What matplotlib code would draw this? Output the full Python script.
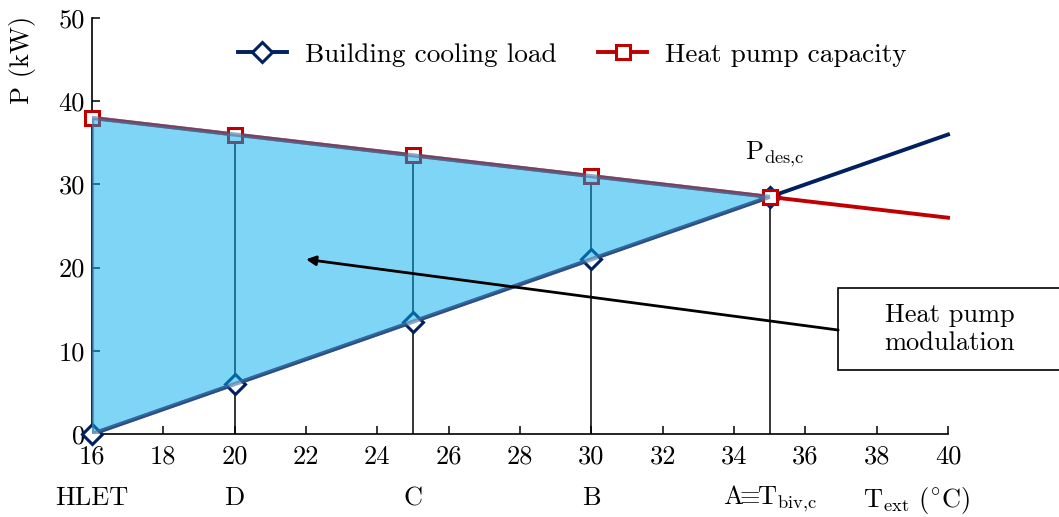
import numpy as np
import matplotlib
matplotlib.use("Agg")
import matplotlib.pyplot as plt
from matplotlib.patches import Polygon, Rectangle

plt.rcParams['font.family'] = 'serif'
plt.rcParams['font.serif'] = ['cmr10']
plt.rcParams['mathtext.fontset'] = 'cm'
plt.rcParams['axes.unicode_minus'] = False

# --- data ---
t_ext = [16, 20, 25, 30, 35, 40]
cooling_load = [0, 6, 13.5, 21, 28.5, 36]
hp_capacity = [38, 36, 33.5, 31, 28.5, 26]
point_labels = ['HLET', 'D', 'C', 'B', r'A$\!\!\equiv\!\!$T$_{\mathrm{biv{,}c}}$']
n_pts = 5  # markers only up to the bivalent point

navy = '#002060'
red = '#C00000'
fs = 19

fig = plt.figure(figsize=(10.59, 5.17), dpi=100)
ax = fig.add_axes([0.0869, 0.1605, 0.8083, 0.8046])

# vertical guides from 0 up to the capacity curve
for x, top in zip(t_ext[1:n_pts], hp_capacity[1:n_pts]):
    ax.plot([x, x], [0, top], color='black', lw=1.1, zorder=2)

ax.plot(t_ext, cooling_load, color=navy, lw=2.8, marker='D', ms=10,
        mfc='white', mec=navy, mew=2.2, markevery=list(range(n_pts)),
        label='Building cooling load', zorder=3, clip_on=False)
ax.plot(t_ext, hp_capacity, color=red, lw=2.8, marker='s', ms=10.5,
        mfc='white', mec=red, mew=2.2, markevery=list(range(n_pts)),
        label='Heat pump capacity', zorder=3, clip_on=False)

# modulation area between load and capacity
verts = list(zip(t_ext[:n_pts], hp_capacity[:n_pts])) + \
    list(zip(t_ext[:n_pts], cooling_load[:n_pts]))[::-1]
ax.add_patch(Polygon(verts, closed=True, facecolor=(0.0, 0.68, 0.93, 0.5),
                     edgecolor=(0.3, 0.42, 0.6, 0.6), lw=3.0, zorder=4))

ax.set_xlim(16, 40)
ax.set_ylim(0, 50)
ax.set_xticks(range(16, 41, 2))
ax.set_yticks(range(0, 51, 10))
ax.tick_params(direction='in', length=6, width=1.1, labelsize=fs, pad=8)
ax.tick_params(axis='y', pad=5)
for s in ['top', 'right']:
    ax.spines[s].set_visible(False)
for s in ['left', 'bottom']:
    ax.spines[s].set_linewidth(1.2)

ax.set_ylabel('P (kW)', fontsize=fs)
ax.yaxis.set_label_coords(-0.066, 0.90)

# rating point names under the tick labels
trans = ax.get_xaxis_transform()
for x, lab in zip(t_ext[:n_pts], point_labels):
    ax.text(x, -0.155, lab, transform=trans, ha='center', va='center', fontsize=fs)
ax.text(39.1, -0.16, r'T$_{\mathrm{ext}}$ ($^{\circ}$C)', transform=trans,
        ha='center', va='center', fontsize=fs)

ax.text(35.15, 33.6, r'P$_{\mathrm{des{,}c}}$', ha='center', va='center', fontsize=fs)

# annotation box and arrow
ax.add_patch(Rectangle((36.92, 7.7), 7.0, 9.85, facecolor='white',
                       edgecolor='black', lw=1.2, clip_on=False, zorder=5))
ax.text(40.05, 12.6, 'Heat pump\nmodulation', ha='center', va='center',
        fontsize=fs, linespacing=1.2, zorder=6, clip_on=False)
ax.annotate('', xy=(22.0, 21.0), xytext=(36.92, 12.5),
            arrowprops=dict(arrowstyle='-|>', color='black', lw=2.0,
                            mutation_scale=14, shrinkA=0, shrinkB=0),
            zorder=5, annotation_clip=False)

ax.legend(loc='upper center', bbox_to_anchor=(0.561, 1.0), ncol=2, frameon=False,
          fontsize=19.6, handlelength=1.8, columnspacing=1.55, handletextpad=0.65)

fig.savefig('out.png', dpi=100)
